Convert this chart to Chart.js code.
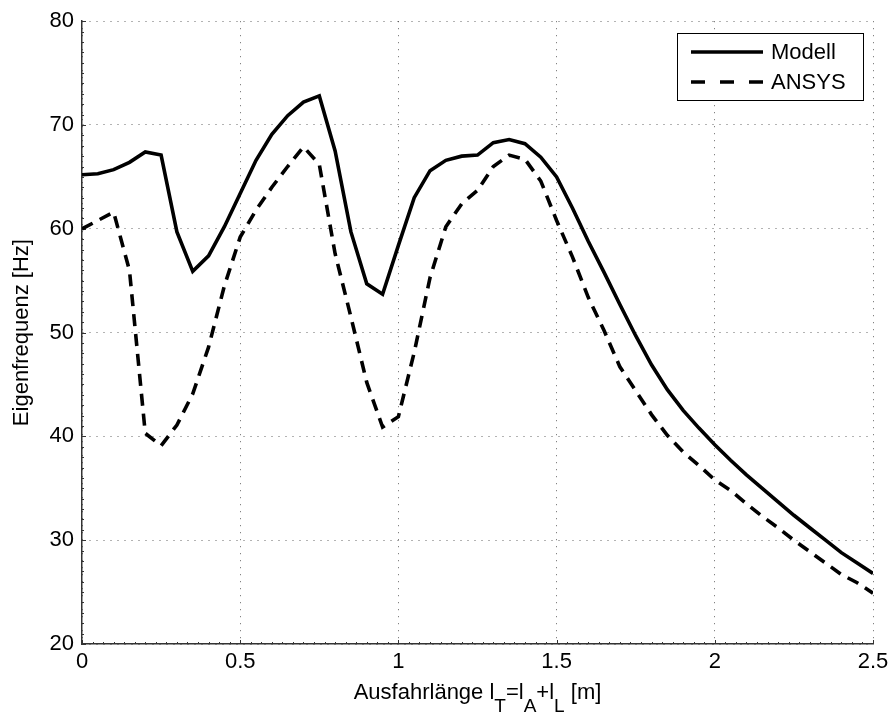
<!DOCTYPE html>
<html>
<head>
<meta charset="utf-8">
<script src="https://cdn.jsdelivr.net/npm/chart.js@4.4.1/dist/chart.umd.min.js"></script>
<style>
  html, body { margin: 0; padding: 0; background: #fff; }
  #wrap { width: 895px; height: 718px; }
</style>
</head>
<body>
<div id="wrap"><canvas id="chart" width="895" height="718"></canvas></div>
<script>
// Ausfahrlänge [m]
const X_VALUES = [
  0, 0.05, 0.1, 0.15, 0.2, 0.25, 0.3, 0.35, 0.4, 0.45,
  0.5, 0.55, 0.6, 0.65, 0.7, 0.75, 0.8, 0.85, 0.9, 0.95,
  1, 1.05, 1.1, 1.15, 1.2, 1.25, 1.3, 1.35, 1.4, 1.45,
  1.5, 1.55, 1.6, 1.65, 1.7, 1.75, 1.8, 1.85, 1.9, 1.95,
  2, 2.05, 2.1, 2.15, 2.2, 2.25, 2.3, 2.35, 2.4, 2.45, 2.5
];
// Eigenfrequenz [Hz]
const MODELL = [
  65.2, 65.3, 65.7, 66.4, 67.4, 67.1, 59.7, 55.9, 57.4, 60.2,
  63.4, 66.6, 69.1, 70.9, 72.2, 72.8, 67.5, 59.7, 54.7, 53.7,
  58.4, 63.0, 65.6, 66.6, 67.0, 67.1, 68.3, 68.6, 68.2, 66.9,
  65.0, 62.0, 58.8, 55.8, 52.7, 49.7, 46.9, 44.5, 42.5, 40.8,
  39.2, 37.7, 36.3, 35.0, 33.7, 32.4, 31.2, 30.0, 28.8, 27.8, 26.8
];
const ANSYS = [
  60.0, 60.8, 61.6, 56.0, 40.3, 39.1, 41.1, 44.1, 48.6, 54.5,
  59.2, 61.8, 64.0, 66.0, 67.9, 66.2, 57.6, 51.5, 45.2, 40.9,
  41.9, 48.1, 55.3, 60.2, 62.4, 63.7, 66.0, 67.1, 66.7, 64.6,
  60.8, 57.3, 53.4, 50.2, 46.7, 44.4, 42.1, 40.1, 38.5, 37.2,
  35.8, 34.8, 33.5, 32.3, 31.2, 30.0, 28.9, 27.8, 26.7, 25.9, 24.9
];
const X_TICKS = [0, 0.5, 1, 1.5, 2, 2.5];
const X_TICK_LABELS = ['0', '0.5', '1', '1.5', '2', '2.5'];
const Y_TICKS = [20, 30, 40, 50, 60, 70, 80];
const Y_TICK_LABELS = ['20', '30', '40', '50', '60', '70', '80'];

const FONT = '"Liberation Sans", Arial, Helvetica, sans-serif';
Chart.defaults.font.family = FONT;
Chart.defaults.color = '#000';

function points(ys) {
  return X_VALUES.map(function(x, i) { return { x: x, y: ys[i] }; });
}

// small inward ticks on the left and bottom axis (major + minor)
var axisTicks = {
  id: 'axisTicks',
  beforeDatasetsDraw: function(chart) {
    var ctx = chart.ctx, a = chart.chartArea;
    var xs = chart.scales.x, ys = chart.scales.y;
    ctx.save();
    ctx.strokeStyle = '#333';
    ctx.lineWidth = 1;
    ctx.beginPath();
    for (var v = 20; v <= 80; v += 1) {
      var py = Math.round(ys.getPixelForValue(v)) + 0.5;
      var len = (v % 10 === 0) ? 4 : 2;
      ctx.moveTo(a.left, py); ctx.lineTo(a.left + len, py);
    }
    for (var k = 0; k <= 75; k++) {
      var px = Math.round(xs.getPixelForValue(k / 30)) + 0.5;
      var l2 = (k % 15 === 0) ? 4 : 2;
      ctx.moveTo(px, a.bottom); ctx.lineTo(px, a.bottom - l2);
    }
    ctx.stroke();
    ctx.restore();
  }
};

// boxed legend in the upper right, and the x title with subscripts
var overlay = {
  id: 'overlay',
  afterDraw: function(chart) {
    var ctx = chart.ctx, a = chart.chartArea;
    ctx.save();

    // legend
    var bx = 677, by = 33, bw = 186, bh = 67;
    ctx.fillStyle = '#fff';
    ctx.fillRect(bx, by, bw, bh);
    ctx.strokeStyle = '#000';
    ctx.lineWidth = 1;
    ctx.strokeRect(bx + 0.5, by + 0.5, bw, bh);
    ctx.font = '22px ' + FONT;
    ctx.textBaseline = 'middle';
    ctx.textAlign = 'left';
    chart.data.datasets.forEach(function(ds, i) {
      var ly = 52 + i * 30;
      ctx.strokeStyle = ds.borderColor;
      ctx.lineWidth = ds.borderWidth;
      ctx.setLineDash(i === 0 ? [] : [14, 15]);
      ctx.beginPath();
      ctx.moveTo(691, ly); ctx.lineTo(763, ly);
      ctx.stroke();
      ctx.setLineDash([]);
      ctx.fillStyle = '#000';
      ctx.fillText(ds.label, 771, ly + 1);
    });

    // x axis title: Ausfahrlänge l_T=l_A+l_L [m]
    var parts = [
      ['Ausfahrlänge l', 0], ['T', 1], ['=l', 0], ['A', 1], ['+l', 0], ['L', 1], [' [m]', 0]
    ];
    var mainFont = '22px ' + FONT, subFont = '19px ' + FONT;
    var total = 0;
    parts.forEach(function(p) {
      ctx.font = p[1] ? subFont : mainFont;
      total += ctx.measureText(p[0]).width;
    });
    var cx = (a.left + a.right) / 2 - total / 2;
    var base = 699;
    ctx.textBaseline = 'alphabetic';
    ctx.fillStyle = '#000';
    parts.forEach(function(p) {
      ctx.font = p[1] ? subFont : mainFont;
      ctx.fillText(p[0], cx, p[1] ? base + 13 : base);
      cx += ctx.measureText(p[0]).width;
    });
    ctx.restore();
  }
};

new Chart(document.getElementById('chart'), {
  type: 'line',
  data: {
    datasets: [
      {
        label: 'Modell',
        data: points(MODELL),
        borderColor: '#000',
        borderWidth: 3.6,
        pointRadius: 0,
        tension: 0,
      },
      {
        label: 'ANSYS',
        data: points(ANSYS),
        borderColor: '#000',
        borderWidth: 3.6,
        borderDash: [12, 8],
        pointRadius: 0,
        tension: 0,
      },
    ],
  },
  options: {
    responsive: false,
    animation: false,
    layout: { padding: { top: 20, right: 22, left: 0, bottom: 0 } },
    scales: {
      x: {
        type: 'linear',
        min: 0, max: 2.5,
        afterFit: function(s) { s.height = 74; },
        afterBuildTicks: function(s) { s.ticks = X_TICKS.map(function(v) { return { value: v }; }); },
        ticks: {
          padding: 5,
          font: { size: 22 },
          color: '#000',
          maxRotation: 0,
          callback: function(v) { return X_TICK_LABELS[X_TICKS.indexOf(v)]; },
        },
        grid: { color: 'rgba(0,0,0,0.6)', lineWidth: 1, drawTicks: false },
        border: { display: true, color: '#333', width: 1.5, dash: [1, 6] },
        title: { display: false },
      },
      y: {
        min: 20, max: 80,
        afterFit: function(s) { s.width = 82; },
        afterBuildTicks: function(s) { s.ticks = Y_TICKS.map(function(v) { return { value: v }; }); },
        ticks: {
          padding: 8,
          font: { size: 22 },
          color: '#000',
          callback: function(v) { return Y_TICK_LABELS[Y_TICKS.indexOf(v)]; },
        },
        grid: { color: 'rgba(0,0,0,0.6)', lineWidth: 1, drawTicks: false },
        border: { display: true, color: '#333', width: 1.5, dash: [1, 6] },
        title: {
          display: true,
          text: 'Eigenfrequenz [Hz]',
          font: { size: 22 },
          color: '#000',
          padding: { top: 9, bottom: 0 },
        },
      },
    },
    plugins: {
      legend: { display: false },
      tooltip: { enabled: false },
    },
  },
  plugins: [axisTicks, overlay],
});
</script>
</body>
</html>
